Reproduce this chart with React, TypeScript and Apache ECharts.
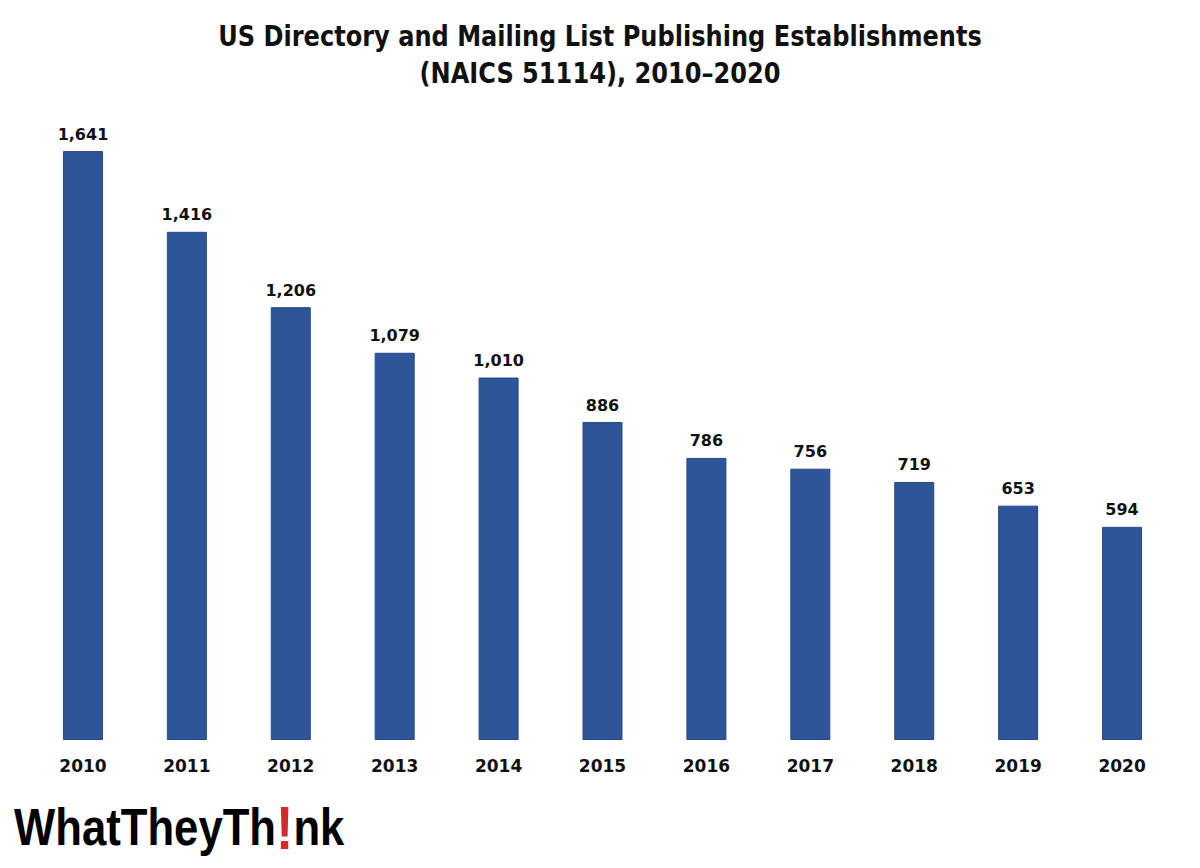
import React, { useEffect, useRef } from "react";
import * as echarts from "echarts";

const years = ["2010", "2011", "2012", "2013", "2014", "2015", "2016", "2017", "2018", "2019", "2020"];
const establishments = [1641, 1416, 1206, 1079, 1010, 886, 786, 756, 719, 653, 594];
const titleLines = ["US Directory and Mailing List Publishing Establishments", "(NAICS 51114), 2010\u20132020"];

export default function App() {
  const ref = useRef<HTMLDivElement>(null);
  useEffect(() => {
    if (!ref.current) return;
    const chart = echarts.init(ref.current, null, { renderer: "svg" });
    chart.setOption({
      animation: false,
      backgroundColor: "#ffffff",
      grid: { left: 31, right: 26, top: 94, bottom: 128, containLabel: false },
      xAxis: {
        type: "category",
        data: years,
        axisLine: { show: false },
        axisTick: { show: false },
        axisLabel: {
          margin: 17,
          fontFamily: "'DejaVu Sans', sans-serif",
          fontWeight: "bold",
          fontSize: 17,
          color: "#111111",
        },
      },
      yAxis: {
        type: "value",
        min: 0,
        max: 1800,
        show: false,
        splitLine: { show: false },
      },
      series: [
        {
          type: "bar",
          data: establishments,
          barWidth: 40,
          itemStyle: { color: "#2E5597", borderColor: "#27498a", borderWidth: 1 },
          label: {
            show: true,
            position: "top",
            distance: 9,
            formatter: (p: any) => Number(p.value).toLocaleString("en-US"),
            fontFamily: "'DejaVu Sans', sans-serif",
            fontWeight: "bold",
            fontSize: 16,
            color: "#111111",
          },
        },
      ],
      graphic: [
        {
          type: "text",
          x: 600,
          y: 18,
          scaleX: 0.86,
          style: {
            text: titleLines.join("\n"),
            textAlign: "center",
            textVerticalAlign: "top",
            fontFamily: "'DejaVu Sans', sans-serif",
            fontWeight: "bold",
            fontSize: 28,
            lineHeight: 37,
            fill: "#111111",
          },
        },
        {
          type: "text",
          x: 14,
          y: 796,
          scaleX: 0.84,
          style: {
            text: "{a|WhatTheyTh}{b|!}{a|nk}",
            rich: {
              a: {
                fontFamily: "'Liberation Sans', 'DejaVu Sans', sans-serif",
                fontWeight: "bold",
                fontSize: 52,
                fill: "#000000",
              },
              b: {
                fontFamily: "'Liberation Sans', 'DejaVu Sans', sans-serif",
                fontWeight: "bold",
                fontSize: 62,
                fill: "#d42a2a",
              },
            },
          },
        },
      ],
    });
    return () => chart.dispose();
  }, []);
  return <div ref={ref} style={{ width: 1200, height: 868, margin: -8 }} />;
}
